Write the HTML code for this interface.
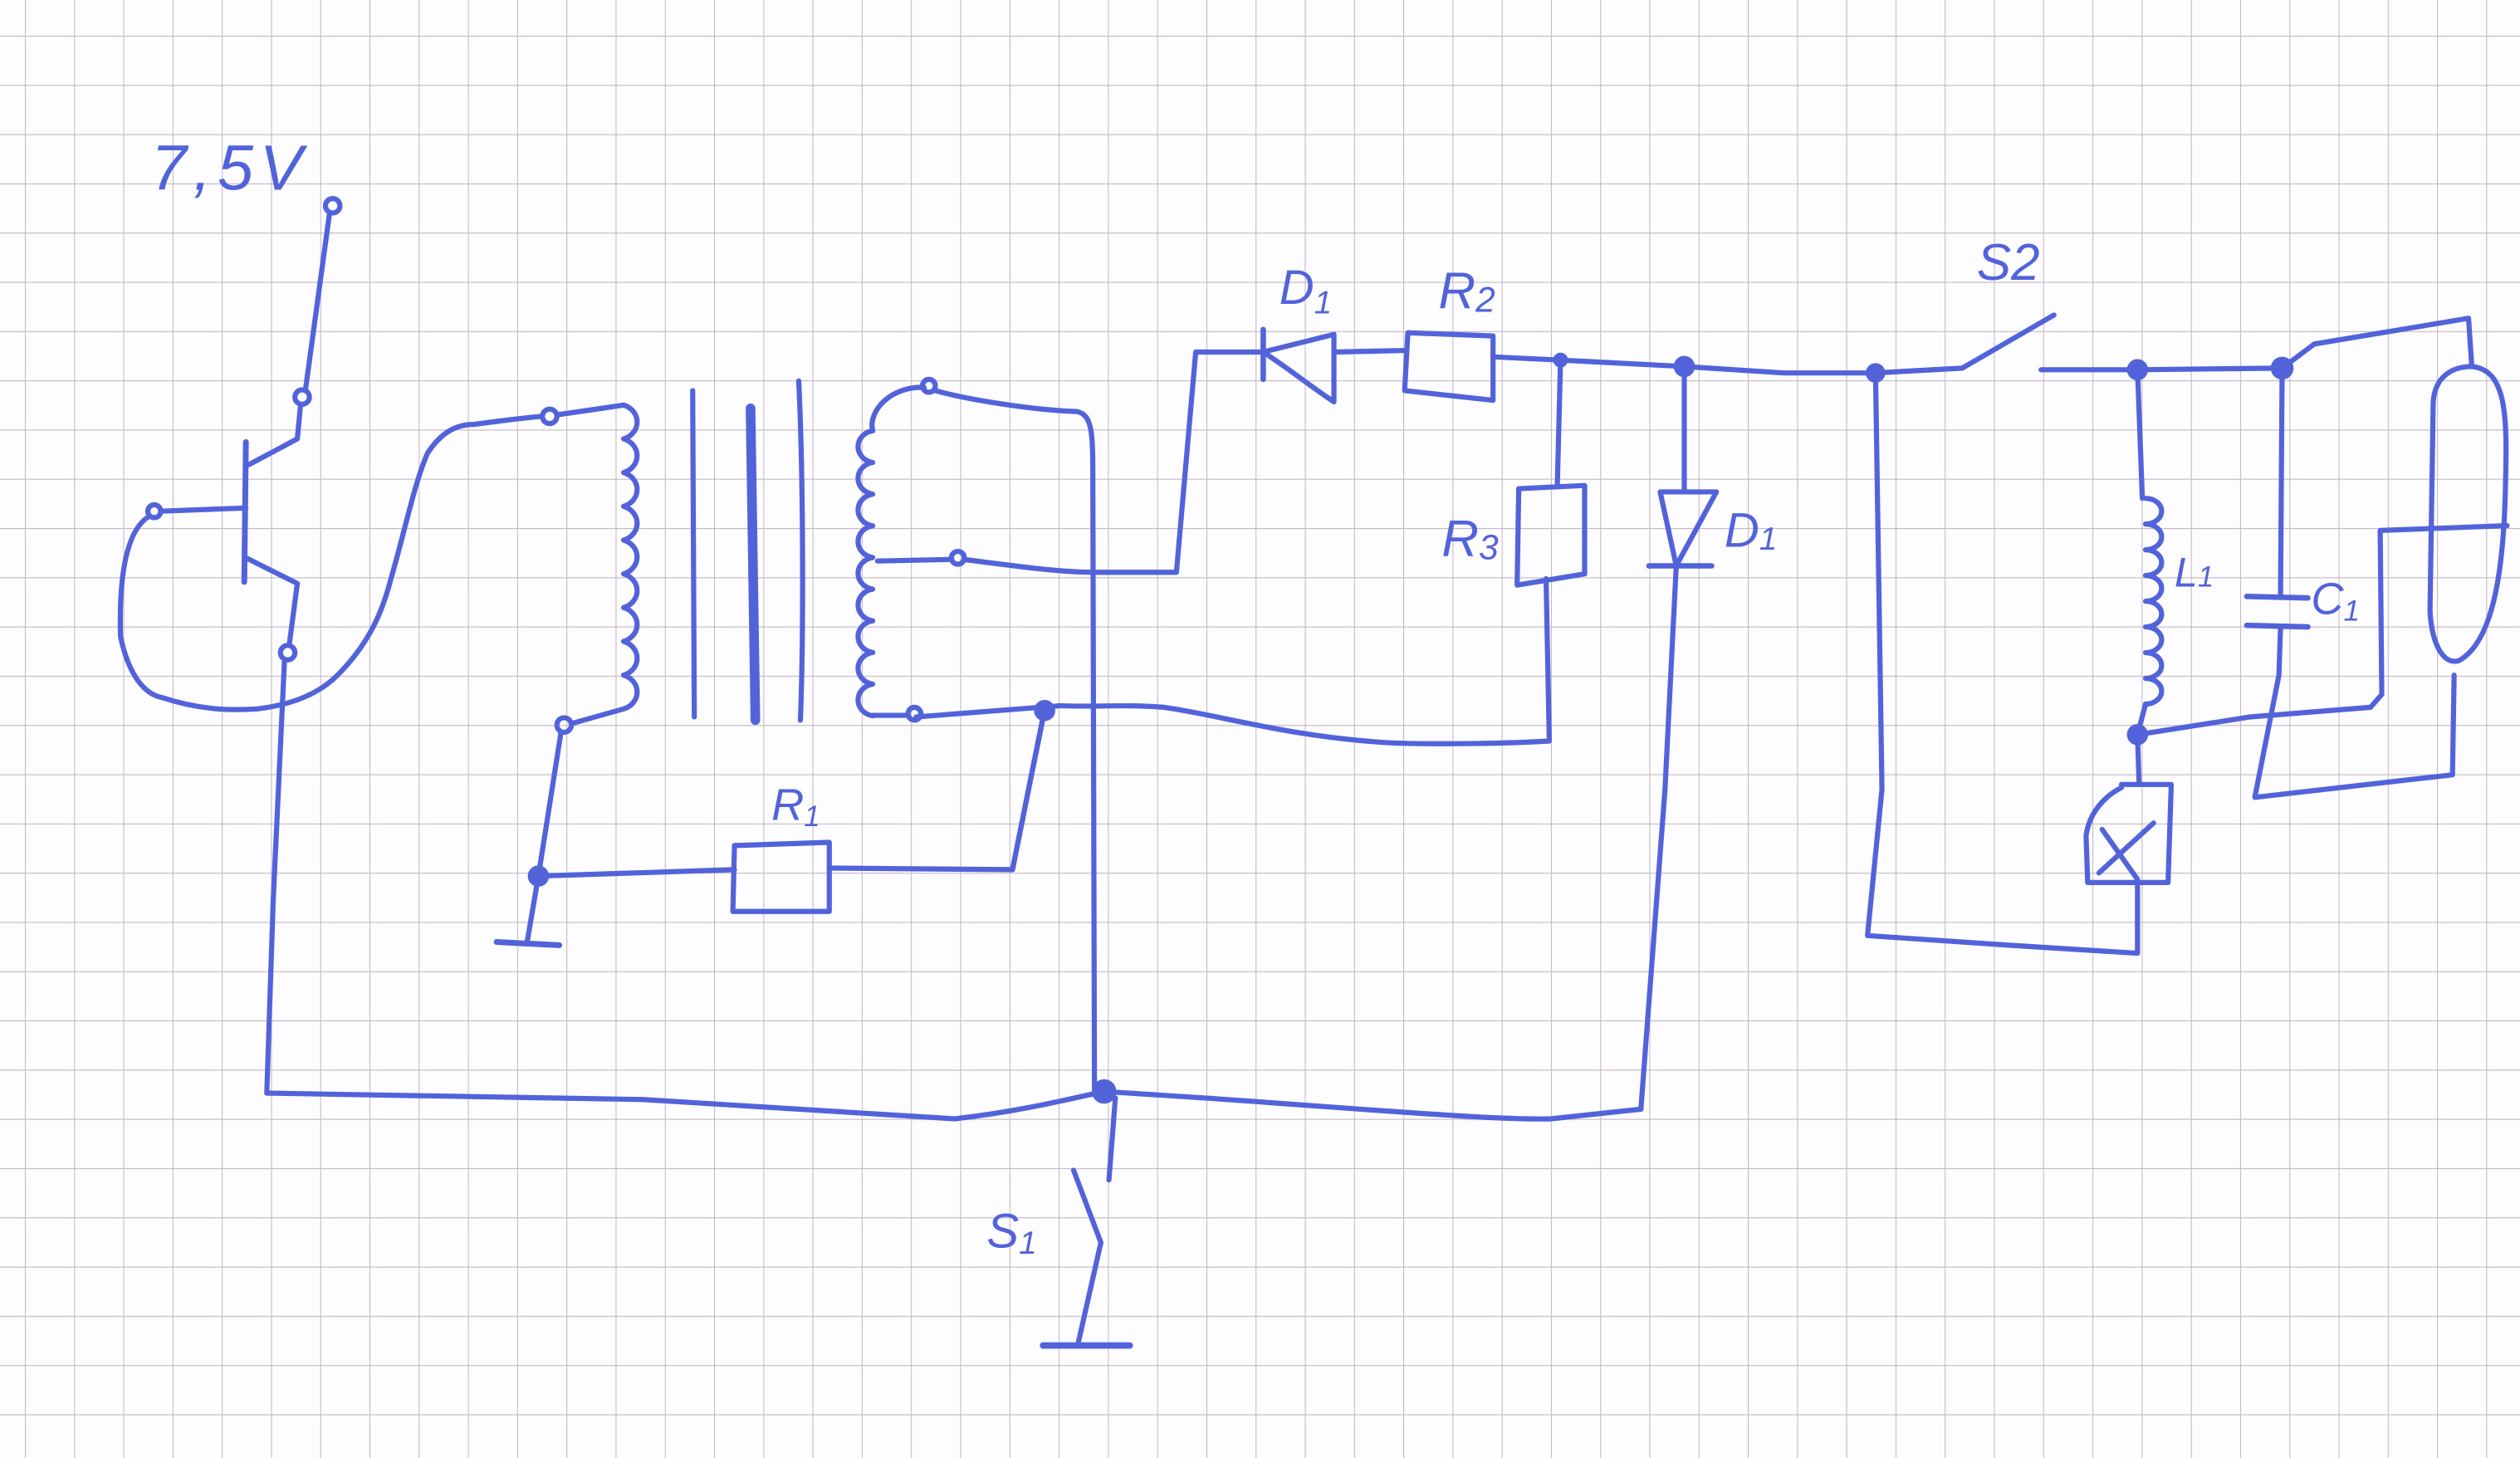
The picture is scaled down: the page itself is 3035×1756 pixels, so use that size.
<!DOCTYPE html>
<html><head><meta charset="utf-8"><style>
html,body{margin:0;padding:0;background:#fdfcfe;}
svg{display:block;}
text{font-family:"Liberation Sans",sans-serif;font-style:italic;fill:#5263da;}
</style></head><body>
<svg width="3035" height="1756" viewBox="0 0 1568 907" preserveAspectRatio="none" xmlns="http://www.w3.org/2000/svg">
<defs>
<pattern id="g" x="15.5" y="22.2" width="30.63" height="30.63" patternUnits="userSpaceOnUse">
<path d="M0 0V30.63M0 0H30.63" stroke="#c4b8c3" stroke-width="1.1" fill="none"/>
</pattern>
</defs>
<rect width="1568" height="907" fill="#fdfcfe"/>
<rect width="1568" height="907" fill="url(#g)"/>
<g stroke="#5263da" stroke-width="3.2" fill="none" stroke-linecap="round" stroke-linejoin="round">
<circle cx="207" cy="128" r="4.5"/>
<path d="M205 133 L190 243"/>
<circle cx="188" cy="247" r="4.5"/>
<path d="M187 252 L185 273 L155 289"/>
<path d="M153 275 L152 362" stroke-width="3.6"/>
<circle cx="96" cy="318" r="4"/>
<path d="M100 318 L153 316"/>
<path d="M153 347 L185 363 L180 401"/>
<circle cx="179" cy="406" r="4.5"/>
<path d="M177 411 L170 560 L166 680"/>
<path d="M93 321 C78 330 74 360 75 396 C80 420 90 432 101 434 C125 442 145 442 160 441 C185 438 200 430 210 420 C230 400 238 380 243 361 C252 330 258 300 266 282 C275 268 285 264 295 264 C310 262 325 260 337 259"/>
<circle cx="342" cy="259" r="4.5"/>
<path d="M347 258 L388 252"/>
<path d="M388 252 a12 11 0 0 1 0 21 a12 11 0 0 1 0 21 a12 11 0 0 1 0 21 a12 11 0 0 1 0 21 a12 11 0 0 1 0 21 a12 11 0 0 1 0 21 a12 11 0 0 1 0 21 a12 11 0 0 1 0 21 a12 11 0 0 1 0 21"/>
<path d="M388 441 L356 450"/>
<circle cx="351" cy="451" r="4.5"/>
<path d="M349 456 L335 545 L328 586"/>
<path d="M309 586 L348 588" stroke-width="3.6"/>
<circle cx="335" cy="545" r="5" fill="#5263da"/>
<path d="M335 545 L457 541"/>
<path d="M457 526 L516 524 L516 567 L456 567 Z"/>
<path d="M516 540 L630 541 L650 441"/>
<path d="M431 243 L432 446"/>
<path d="M467 254 L470 448" stroke-width="6"/>
<path d="M497 237 C500 300 500 400 498 448"/>
<circle cx="578" cy="240" r="4"/>
<path d="M582 243 C600 248 640 255 670 256 C680 258 680 270 680 300 L681 678"/>
<path d="M575 241 C555 240 540 255 543 268"/>
<path d="M543 268 a11 10 0 0 0 0 19.7 a11 10 0 0 0 0 19.7 a11 10 0 0 0 0 19.7 a11 10 0 0 0 0 19.7 a11 10 0 0 0 0 19.7 a11 10 0 0 0 0 19.7 a11 10 0 0 0 0 19.7 a11 10 0 0 0 0 19.7 a11 10 0 0 0 0 19.7"/>
<path d="M543 445 L565 445"/>
<circle cx="569" cy="444" r="4"/>
<path d="M546 349 L592 348"/>
<circle cx="596" cy="347" r="4"/>
<path d="M600 348 C630 352 660 356 680 356 L732 356 L744 219 L786 219"/>
<path d="M786 205 L786 236" stroke-width="3.4"/>
<path d="M786 219 L830 208 L830 250 C815 240 800 228 786 219"/>
<path d="M830 219 L875 218"/>
<path d="M876 207 L929 209 L929 249 L874 243 Z"/>
<path d="M929 222 L971 224 L1048 228 L1110 232 L1167 232 L1221 229 L1278 196"/>
<circle cx="971" cy="224" r="3" fill="#5263da"/>
<circle cx="1048" cy="228" r="5" fill="#5263da"/>
<circle cx="1167" cy="232" r="4.5" fill="#5263da"/>
<path d="M971 224 L969 302"/>
<path d="M945 304 L986 302 L986 357 L944 364 Z"/>
<path d="M962 360 L964 461 C930 463 880 463 863 462 C800 458 760 445 724 440 C700 438 680 440 660 439 L570 446"/>
<circle cx="650" cy="442" r="5" fill="#5263da"/>
<path d="M650 442 L640 491 L630 541"/>
<path d="M1048 228 L1048 306"/>
<path d="M1033 306 L1068 306 L1043 352 Z"/>
<path d="M1026 352 L1065 352" stroke-width="3.4"/>
<path d="M1043 352 L1036 491 L1021 690"/>
<path d="M166 680 L400 684 L594 696 C630 692 660 685 687 679 L749 683 C850 690 930 697 965 696 L1021 690"/>
<circle cx="687" cy="679" r="6" fill="#5263da"/>
<path d="M694 683 L690 734"/>
<path d="M668 728 L685 773 L671 835"/>
<path d="M649 837 L703 837" stroke-width="4"/>
<path d="M1167 232 L1171 491 L1162 582 L1250 588 L1330 593 L1330 549"/>
<path d="M1270 230 L1330 230 L1420 229 L1440 214 L1536 198 L1538 228"/>
<circle cx="1330" cy="230" r="5" fill="#5263da"/>
<circle cx="1420" cy="229" r="5.5" fill="#5263da"/>
<path d="M1330 230 L1333 310"/>
<path d="M1335 310 a10 8 0 0 1 0 16 a10 8 0 0 1 0 16 a10 8 0 0 1 0 16 a10 8 0 0 1 0 16 a10 8 0 0 1 0 16 a10 8 0 0 1 0 16 a10 8 0 0 1 0 16 a10 8 0 0 1 0 16"/>
<path d="M1335 438 L1330 457 L1331 488"/>
<circle cx="1330" cy="457" r="5" fill="#5263da"/>
<path d="M1330 457 L1400 446 L1475 440 L1482 432 L1481 330 L1560 327"/>
<path d="M1320 488 L1351 488 L1349 549 L1299 549 L1298 520 C1300 505 1310 495 1320 490"/>
<path d="M1308 516 L1330 547 M1306 543 L1340 512"/>
<path d="M1420 229 L1419 371"/>
<path d="M1398 371 L1436 372 M1398 389 L1436 390" stroke-width="3.4"/>
<path d="M1419 390 L1418 420 L1403 496 L1526 482 L1527 420"/>
<path d="M1538 228 C1560 230 1560 260 1559 300 C1558 360 1550 400 1530 411 C1520 414 1513 400 1512 380 L1514 250 C1515 235 1525 228 1538 228"/>
</g>
<g stroke="none">
<text x="94" y="118" font-size="40" letter-spacing="4">7,5V</text>
<text x="796" y="189" font-size="30">D<tspan font-size="20" dy="6">1</tspan></text>
<text x="895" y="192" font-size="32">R<tspan font-size="22" dy="2">2</tspan></text>
<text x="1230" y="174" font-size="32">S2</text>
<text x="897" y="346" font-size="32">R<tspan font-size="22" dy="2">3</tspan></text>
<text x="1073" y="340" font-size="30">D<tspan font-size="20" dy="2">1</tspan></text>
<text x="480" y="510" font-size="28">R<tspan font-size="18" dy="4">1</tspan></text>
<text x="1353" y="365" font-size="26">L<tspan font-size="18">1</tspan></text>
<text x="1438" y="382" font-size="28">C<tspan font-size="18" dy="4">1</tspan></text>
<text x="614" y="776" font-size="30">S<tspan font-size="20" dy="4">1</tspan></text>
</g>
</svg>
</body></html>
